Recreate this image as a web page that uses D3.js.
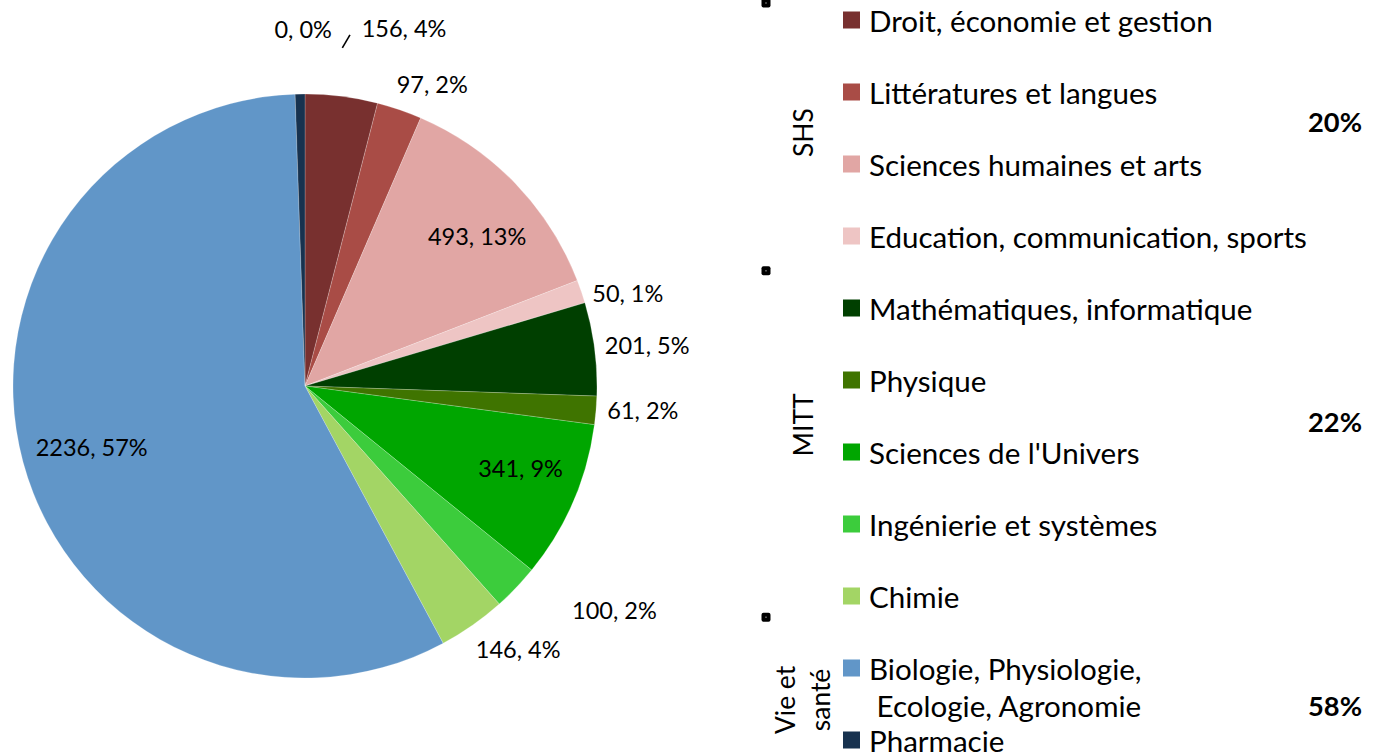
<!DOCTYPE html>
<html>
<head>
<meta charset="utf-8">
<script src="https://cdn.jsdelivr.net/npm/d3@7"></script>
<style>
  html, body { margin: 0; padding: 0; background: #fff; }
  svg { display: block; }
</style>
</head>
<body>
<svg id="chart" width="1383" height="753"></svg>
<script>
// ---------- data ----------
const categories = [
  "Droit, économie et gestion",
  "Littératures et langues",
  "Sciences humaines et arts",
  "Education, communication, sports",
  "Mathématiques, informatique",
  "Physique",
  "Sciences de l'Univers",
  "Ingénierie et systèmes",
  "Chimie",
  "Biologie, Physiologie,\n Ecologie, Agronomie",
  "Pharmacie"
];
const values = [156, 97, 493, 50, 201, 61, 341, 100, 146, 2236, 21];
// data labels as printed on the chart
const labelValues = [156, 97, 493, 50, 201, 61, 341, 100, 146, 2236, 0];
const labelPercents = [4, 2, 13, 1, 5, 2, 9, 2, 4, 57, 0];
const colors = ["#78302f", "#a94c46", "#e1a6a4", "#eec5c4", "#003f00", "#3f7400",
                "#00a600", "#3ccc3c", "#a3d565", "#6196c8", "#17324f"];
const groupNames = ["SHS", "MITT", "Vie et\nsanté"];
const groupPercents = ["20%", "22%", "58%"];

// ---------- layout (not data) ----------
const W = 1383, H = 753;
const cx = 305, cy = 386, R = 292;
// label placement: [angle in degrees clockwise from top, distance as fraction of R]
const labelLayout = [[15.5,1.27],[22.9,1.12],[49.1,0.78],[74,1.15],[83.2,1.18],[94.2,1.16],
                     [110.9,0.79],[126,1.31],[141,1.16],[254,0.76],[359.7,1.22]];
// group label / percent / marker rows (in legend row units)
const groupLabelRow = [1.55, 5.61, 9.43];
const groupPctRow = [1.40, 5.57, 9.51];
const markerRow = [-0.25, 3.47, 8.28];

const FONT = "Lato, 'Open Sans', 'DejaVu Sans', sans-serif";
const svg = d3.select("#chart");

function fitSize(text, target, weight) {
  const t = svg.append("text").attr("font-family", FONT).attr("font-size", 100)
    .attr("font-weight", weight || "normal").text(text);
  const w = t.node().getComputedTextLength();
  t.remove();
  return 100 * target / w;
}
const legendSize = fitSize("Droit, économie et gestion", 344);
const labelSize = fitSize("2236, 57%", 112);
const groupSize = fitSize("MITT", 63);
const pctSize = fitSize("20%", 54, "bold");

// ---------- pie ----------
const pie = d3.pie().sort(null).value(d => d).startAngle(0).endAngle(2 * Math.PI);
const arcs = pie(values);
const arc = d3.arc().innerRadius(0).outerRadius(R);
const g = svg.append("g").attr("transform", `translate(${cx},${cy})`);

g.selectAll("path.slice").data(arcs).enter().append("path")
  .attr("class", "slice")
  .attr("d", arc)
  .attr("fill", (d, i) => colors[i])
  .attr("stroke", "#ffffff").attr("stroke-opacity", 0.35).attr("stroke-width", 0.6);

const rad = Math.PI / 180;
const polar = (deg, f) => [Math.sin(deg * rad) * R * f, -Math.cos(deg * rad) * R * f];

g.selectAll("text.dl").data(arcs).enter().append("text")
  .attr("class", "dl")
  .attr("x", (d, i) => polar(...labelLayout[i])[0])
  .attr("y", (d, i) => polar(...labelLayout[i])[1])
  .attr("dy", "0.36em")
  .attr("text-anchor", "middle")
  .attr("font-family", FONT).attr("font-size", labelSize).attr("fill", "#000")
  .text((d, i) => `${labelValues[i]}, ${labelPercents[i]}%`);

// small leader-line fragment near the top
const lp1 = polar(6.3, 1.165), lp2 = polar(7.3, 1.212);
g.append("line").attr("x1", lp1[0]).attr("y1", lp1[1]).attr("x2", lp2[0]).attr("y2", lp2[1])
  .attr("stroke", "#000").attr("stroke-width", 1.6);

// ---------- legend ----------
const rowY = d3.scaleLinear().domain([0, 1]).range([21, 93]);
const legX = 843, sw = 17, textX = 869;
const leg = svg.append("g");
categories.forEach((c, i) => {
  const y = rowY(i);
  leg.append("rect").attr("x", legX).attr("y", y - sw / 2 - 1).attr("width", sw).attr("height", sw)
    .attr("fill", colors[i]);
  const lines = c.split("\n");
  const t = leg.append("text").attr("font-family", FONT).attr("font-size", legendSize).attr("fill", "#000")
    .attr("xml:space", "preserve");
  lines.forEach((ln, k) => {
    t.append("tspan").attr("x", textX).attr("y", y + k * 37).attr("dy", "0.36em").text(ln);
  });
});

// group labels (rotated)
groupNames.forEach((name, i) => {
  const y = rowY(groupLabelRow[i]);
  const lines = name.split("\n");
  const x0 = 803;
  const t = svg.append("text")
    .attr("transform", `translate(${x0},${y}) rotate(-90)`)
    .attr("text-anchor", "middle")
    .attr("font-family", FONT).attr("font-size", groupSize).attr("fill", "#000");
  const lh = 36;
  lines.forEach((ln, k) => {
    t.append("tspan").attr("x", 0)
      .attr("y", (k - (lines.length - 1) / 2) * lh)
      .attr("dy", "0.36em").text(ln);
  });
  svg.append("text")
    .attr("x", 1362).attr("y", rowY(groupPctRow[i])).attr("dy", "0.36em")
    .attr("text-anchor", "end")
    .attr("font-family", FONT).attr("font-weight", "bold").attr("font-size", pctSize).attr("fill", "#000")
    .text(groupPercents[i]);
  const my = rowY(markerRow[i]);
  svg.append("rect").attr("x", 761.5).attr("y", my - 4.5).attr("width", 9).attr("height", 9)
    .attr("rx", 2).attr("fill", "#000");
  svg.append("rect").attr("x", 765.5).attr("y", my - 0.5).attr("width", 1).attr("height", 1)
    .attr("fill", "#fff");
});
</script>
</body>
</html>
